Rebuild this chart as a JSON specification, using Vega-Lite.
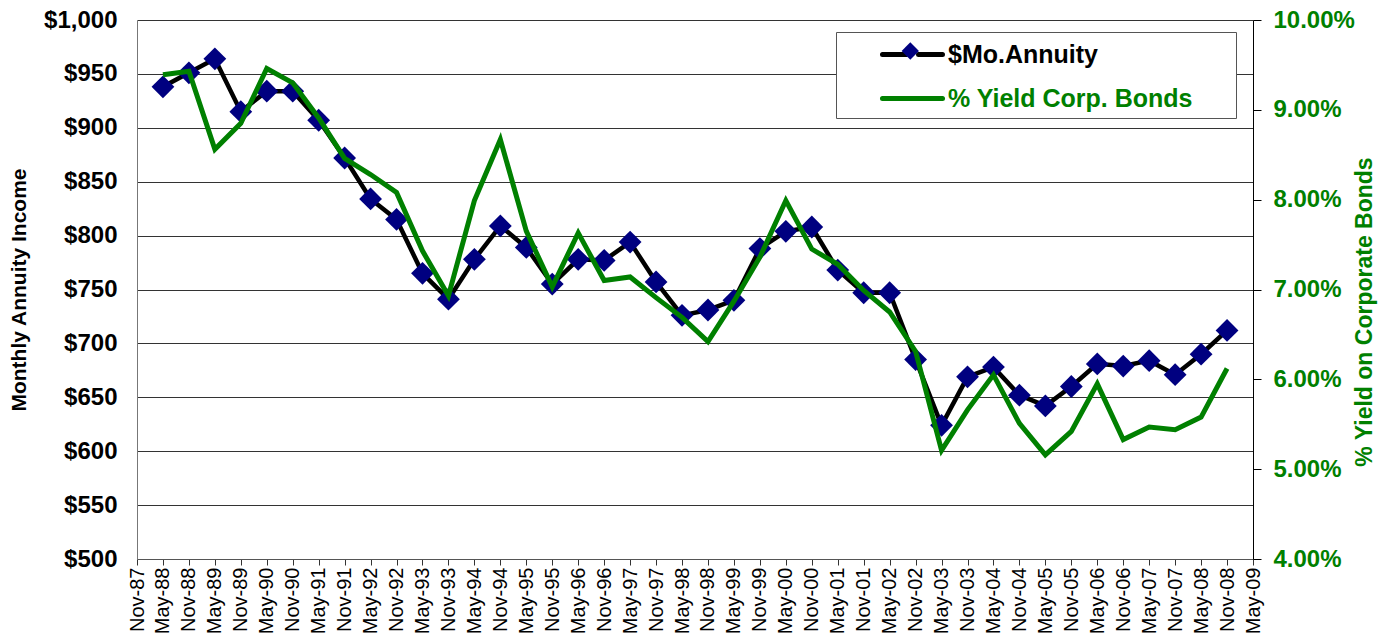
{
  "$schema": "https://vega.github.io/schema/vega-lite/v6.json",
  "autosize": "none",
  "width": 1116,
  "height": 539,
  "padding": {"left": 137, "top": 20, "right": 140, "bottom": 83},
  "background": "white",
  "config": {
    "font": "Liberation Sans",
    "view": {"stroke": null},
    "axis": {"labelFont": "Liberation Sans", "titleFont": "Liberation Sans"}
  },
  "data": {
    "values": [
      {"period": "May-88", "annuity": 938, "yield": 9.39},
      {"period": "Nov-88", "annuity": 951, "yield": 9.43},
      {"period": "May-89", "annuity": 964, "yield": 8.56},
      {"period": "Nov-89", "annuity": 915, "yield": 8.85},
      {"period": "May-90", "annuity": 934, "yield": 9.46},
      {"period": "Nov-90", "annuity": 934, "yield": 9.30},
      {"period": "May-91", "annuity": 907, "yield": 8.91},
      {"period": "Nov-91", "annuity": 872, "yield": 8.46},
      {"period": "May-92", "annuity": 834, "yield": 8.28},
      {"period": "Nov-92", "annuity": 815, "yield": 8.08},
      {"period": "May-93", "annuity": 765, "yield": 7.43},
      {"period": "Nov-93", "annuity": 741, "yield": 6.93},
      {"period": "May-94", "annuity": 778, "yield": 7.99},
      {"period": "Nov-94", "annuity": 809, "yield": 8.67},
      {"period": "May-95", "annuity": 789, "yield": 7.65},
      {"period": "Nov-95", "annuity": 755, "yield": 7.03},
      {"period": "May-96", "annuity": 778, "yield": 7.63},
      {"period": "Nov-96", "annuity": 777, "yield": 7.10},
      {"period": "May-97", "annuity": 794, "yield": 7.14},
      {"period": "Nov-97", "annuity": 757, "yield": 6.91},
      {"period": "May-98", "annuity": 726, "yield": 6.69},
      {"period": "Nov-98", "annuity": 731, "yield": 6.42},
      {"period": "May-99", "annuity": 740, "yield": 6.87},
      {"period": "Nov-99", "annuity": 788, "yield": 7.36},
      {"period": "May-00", "annuity": 804, "yield": 7.99},
      {"period": "Nov-00", "annuity": 808, "yield": 7.45},
      {"period": "May-01", "annuity": 768, "yield": 7.28},
      {"period": "Nov-01", "annuity": 747, "yield": 6.99},
      {"period": "May-02", "annuity": 747, "yield": 6.75},
      {"period": "Nov-02", "annuity": 685, "yield": 6.31},
      {"period": "May-03", "annuity": 624, "yield": 5.21},
      {"period": "Nov-03", "annuity": 669, "yield": 5.66},
      {"period": "May-04", "annuity": 678, "yield": 6.05},
      {"period": "Nov-04", "annuity": 652, "yield": 5.51},
      {"period": "May-05", "annuity": 642, "yield": 5.16},
      {"period": "Nov-05", "annuity": 660, "yield": 5.42},
      {"period": "May-06", "annuity": 681, "yield": 5.95},
      {"period": "Nov-06", "annuity": 679, "yield": 5.33},
      {"period": "May-07", "annuity": 684, "yield": 5.47},
      {"period": "Nov-07", "annuity": 671, "yield": 5.44},
      {"period": "May-08", "annuity": 690, "yield": 5.58},
      {"period": "Nov-08", "annuity": 712, "yield": 6.12}
    ]
  },
  "encoding": {
    "x": {
      "field": "period",
      "type": "ordinal",
      "sort": null,
      "scale": {
        "type": "point",
        "padding": 0,
        "domain": ["Nov-87","May-88","Nov-88","May-89","Nov-89","May-90","Nov-90","May-91","Nov-91","May-92","Nov-92","May-93","Nov-93","May-94","Nov-94","May-95","Nov-95","May-96","Nov-96","May-97","Nov-97","May-98","Nov-98","May-99","Nov-99","May-00","Nov-00","May-01","Nov-01","May-02","Nov-02","May-03","Nov-03","May-04","Nov-04","May-05","Nov-05","May-06","Nov-06","May-07","Nov-07","May-08","Nov-08","May-09"]
      },
      "axis": {
        "title": null,
        "labelAngle": 270,
        "labelAlign": "right",
        "labelBaseline": "middle",
        "labelFontSize": 20,
        "labelColor": "black",
        "labelPadding": 2,
        "tickSize": 6,
        "tickColor": "#333",
        "domainColor": "#555",
        "grid": false,
        "labelOverlap": false
      }
    }
  },
  "layer": [
    {
      "layer": [
        {
          "mark": {"type": "line", "strokeWidth": 4.5},
          "encoding": {
            "y": {
              "field": "annuity",
              "type": "quantitative",
              "scale": {"domain": [500, 1000], "nice": false, "zero": false},
              "axis": {
                "orient": "left",
                "title": "Monthly Annuity Income",
                "titleFontSize": 21,
                "titleFontWeight": "bold",
                "titleColor": "black",
                "titlePadding": 14,
                "values": [500, 550, 600, 650, 700, 750, 800, 850, 900, 950, 1000],
                "format": "$,.0f",
                "labelFontSize": 24,
                "labelFontWeight": "bold",
                "labelColor": "black",
                "labelPadding": 20,
                "ticks": false,
                "domainColor": "#777",
                "grid": true,
                "gridColor": "#333",
                "gridWidth": 1,
                "gridOpacity": 1
              }
            },
            "color": {
              "datum": "$Mo.Annuity",
              "type": "nominal",
              "scale": {"domain": ["$Mo.Annuity", "% Yield Corp. Bonds"], "range": ["black", "#008000"]},
              "legend": {
                "title": null,
                "orient": "none",
                "legendX": 699,
                "legendY": 12,
                "padding": 6,
                "fillColor": "white",
                "strokeColor": "#555",
                "symbolSize": 784,
                "symbolStrokeWidth": 5,
                "rowPadding": 14,
                "labelOffset": 73,
                "labelFontSize": 25,
                "labelFontWeight": "bold",
                "labelLimit": 600,
                "encode": {
                  "symbols": {
                    "update": {
                      "shape": {"signal": "datum.value === '$Mo.Annuity' ? 'M1.714,0H3.429M4.286,0H6M25.8,0' : 'M1.714,0H6M25.8,0'"},
                      "strokeCap": {"value": "round"}
                    }
                  },
                  "labels": {
                    "update": {
                      "fill": {"signal": "datum.value === '$Mo.Annuity' ? 'black' : '#008000'"}
                    }
                  }
                }
              }
            }
          }
        },
        {
          "mark": {"type": "point", "filled": true, "color": "#000080", "size": 520, "opacity": 1},
          "encoding": {
            "y": {"field": "annuity", "type": "quantitative"},
            "shape": {
              "datum": "$Mo.Annuity",
              "type": "nominal",
              "scale": {"domain": ["$Mo.Annuity"], "range": ["diamond"]},
              "legend": {
                "title": null,
                "orient": "none",
                "legendX": 764.3,
                "legendY": 22,
                "padding": 0,
                "symbolSize": 300,
                "symbolFillColor": "#000080",
                "symbolStrokeWidth": 0,
                "symbolOpacity": 1,
                "labelExpr": "''",
                "labelOpacity": 0
              }
            }
          }
        }
      ]
    },
    {
      "mark": {"type": "line", "strokeWidth": 5},
      "encoding": {
        "y": {
          "field": "yield",
          "type": "quantitative",
          "scale": {"domain": [4, 10], "nice": false, "zero": false},
          "axis": {
            "orient": "right",
            "title": "% Yield on Corporate Bonds",
            "titleAngle": 270,
            "titleFontSize": 23,
            "titleFontWeight": "bold",
            "titleColor": "#008000",
            "titlePadding": 22,
            "titleY": 291.5,
            "values": [4, 5, 6, 7, 8, 9, 10],
            "labelExpr": "format(datum.value, '.2f') + '%'",
            "labelFontSize": 24,
            "labelFontWeight": "bold",
            "labelColor": "#008000",
            "labelPadding": 12,
            "tickSize": 8,
            "tickColor": "black",
            "domainColor": "black",
            "grid": false
          }
        },
        "color": {"datum": "% Yield Corp. Bonds", "type": "nominal"}
      }
    }
  ],
  "resolve": {"scale": {"y": "independent"}}
}
